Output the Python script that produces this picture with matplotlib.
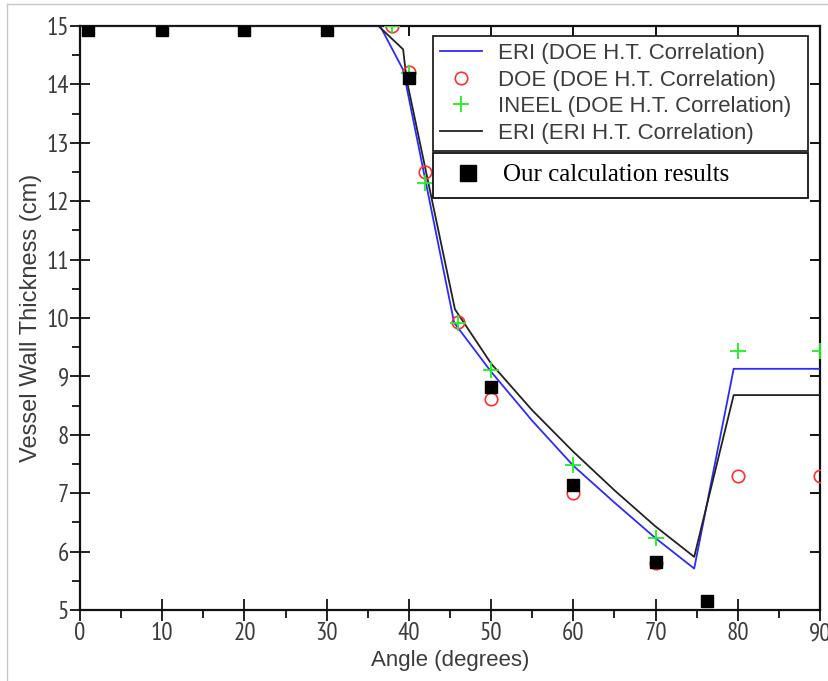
import matplotlib
matplotlib.use("Agg")
import matplotlib.pyplot as plt
from matplotlib import font_manager
from matplotlib.lines import Line2D
from matplotlib.ticker import MultipleLocator

# ---------------- data ----------------
eri_doe_x = [0, 36.5, 39.3, 45.5, 50, 55, 60, 65, 70, 74.7, 79.5, 90]
eri_doe_y = [15, 15, 14.25, 9.92, 9.08, 8.24, 7.47, 6.84, 6.23, 5.71, 9.13, 9.13]

eri_eri_x = [0, 36.3, 39.3, 39.7, 45.6, 50, 55, 60, 65, 70, 74.7, 79.5, 90]
eri_eri_y = [15, 15, 14.6, 14.1, 10.15, 9.22, 8.42, 7.71, 7.05, 6.43, 5.91, 8.68, 8.68]

doe_x = [38, 40, 42, 46, 50, 60, 70, 80, 90]
doe_y = [15.0, 14.21, 12.5, 9.93, 8.61, 7.0, 5.8, 7.29, 7.29]

ineel_x = [38, 40, 42, 46, 50, 60, 70, 80, 90]
ineel_y = [15.0, 14.2, 12.31, 9.92, 9.11, 7.49, 6.23, 9.44, 9.44]

our_x = [1, 10, 20, 30, 40, 50, 60, 70, 76.2]
our_y = [14.93, 14.93, 14.93, 14.93, 14.11, 8.82, 7.14, 5.82, 5.15]

x_ticks = [0, 10, 20, 30, 40, 50, 60, 70, 80, 90]
y_ticks = [5, 6, 7, 8, 9, 10, 11, 12, 13, 14, 15]

# ---------------- fonts ----------------
avail = {f.name for f in font_manager.fontManager.ttflist}
narrow = "Liberation Sans"
for cand in ["PT Sans Narrow", "Roboto Condensed", "Liberation Sans"]:
    if cand in avail:
        narrow = cand
        break
sans = "Liberation Sans"
serif = "Liberation Serif"
txt_col = "#3c3c3c"

fig = plt.figure(figsize=(8.29, 6.81), dpi=100)
ax = fig.add_axes([80 / 829, 1 - 610 / 681, 740 / 829, 584 / 681])

ax.plot(eri_doe_x, eri_doe_y, color="#2b2bff", lw=1.3, zorder=3)
ax.plot(eri_eri_x, eri_eri_y, color="#222222", lw=1.3, zorder=3)
ax.plot(doe_x, doe_y, ls="none", marker="o", ms=9, mfc="none", mec="#ff3030",
        mew=1.2, zorder=4)
ax.plot(ineel_x, ineel_y, ls="none", marker="+", ms=11, mec="#22ee22",
        mew=1.3, zorder=5)
ax.plot(our_x, our_y, ls="none", marker="s", ms=8.5, mfc="black", mec="black",
        zorder=6)

ax.set_xlim(0, 90)
ax.set_ylim(5, 15)
ax.set_xticks(x_ticks)
ax.set_yticks(y_ticks)
ax.xaxis.set_minor_locator(MultipleLocator(5))
ax.yaxis.set_minor_locator(MultipleLocator(0.5))

for s in ax.spines.values():
    s.set_linewidth(1.6)
    s.set_color("#111111")

ax.tick_params(which="major", direction="inout", length=14, width=1.3,
               labelcolor=txt_col, color="#111111")
ax.tick_params(axis="x", which="major", length=16, pad=1)
ax.tick_params(axis="y", which="major", pad=1)
ax.tick_params(which="minor", direction="out", length=6, width=1.3, color="#111111")
for lab in ax.get_xticklabels() + ax.get_yticklabels():
    lab.set_fontfamily(narrow)
    lab.set_fontsize(18)

secx = ax.secondary_xaxis("top")
secx.set_xticks(x_ticks)
secx.tick_params(direction="in", length=7, width=1.3, labeltop=False)
secx.spines["top"].set_visible(False)
secy = ax.secondary_yaxis("right")
secy.set_yticks(y_ticks)
secy.tick_params(direction="in", length=7, width=1.3, labelright=False)
secy.spines["right"].set_visible(False)

ax.set_xlabel("Angle (degrees)", fontsize=16, color=txt_col, family=sans, labelpad=3)
ax.set_ylabel("Vessel Wall Thickness (cm)", fontsize=17, color=txt_col, family=sans, labelpad=3)

h1 = [
    Line2D([], [], color="#2b2bff", lw=1.3),
    Line2D([], [], ls="none", marker="o", ms=9, mfc="none", mec="#ff3030", mew=1.2),
    Line2D([], [], ls="none", marker="+", ms=11, mec="#22ee22", mew=1.3),
    Line2D([], [], color="#222222", lw=1.3),
]
l1 = ["ERI (DOE H.T. Correlation)", "DOE (DOE H.T. Correlation)",
      "INEEL (DOE H.T. Correlation)", "ERI (ERI H.T. Correlation)"]
leg1 = ax.legend(h1, l1, loc="upper left", bbox_to_anchor=(0.477, 0.983, 0.507, 0.0),
                 mode="expand", fancybox=False, framealpha=1, edgecolor="#222222",
                 borderaxespad=0, prop={"family": sans, "size": 16},
                 labelspacing=0.25, handlelength=1.9, handletextpad=0.7,
                 borderpad=0.32, labelcolor=txt_col)
leg1.get_frame().set_linewidth(1.3)
ax.add_artist(leg1)

h2 = [Line2D([], [], ls="none", marker="s", ms=12, mfc="black", mec="black")]
leg2 = ax.legend(h2, ["Our calculation results"], loc="upper left",
                 bbox_to_anchor=(0.477, 0.783, 0.507, 0.0), mode="expand",
                 fancybox=False, framealpha=1, edgecolor="#111111",
                 borderaxespad=0, prop={"family": serif, "size": 18},
                 handlelength=1.9, handletextpad=0.45, borderpad=0.45,
                 labelcolor="black")
leg2.get_frame().set_linewidth(1.3)

fig.add_artist(Line2D([7 / 829, 1], [1 - 4 / 681, 1 - 4 / 681], color="#c8c8c8", lw=1,
                      transform=fig.transFigure))
fig.add_artist(Line2D([7 / 829, 7 / 829], [0, 1 - 4 / 681], color="#c8c8c8", lw=1,
                      transform=fig.transFigure))

fig.savefig("out.png", dpi=100)
